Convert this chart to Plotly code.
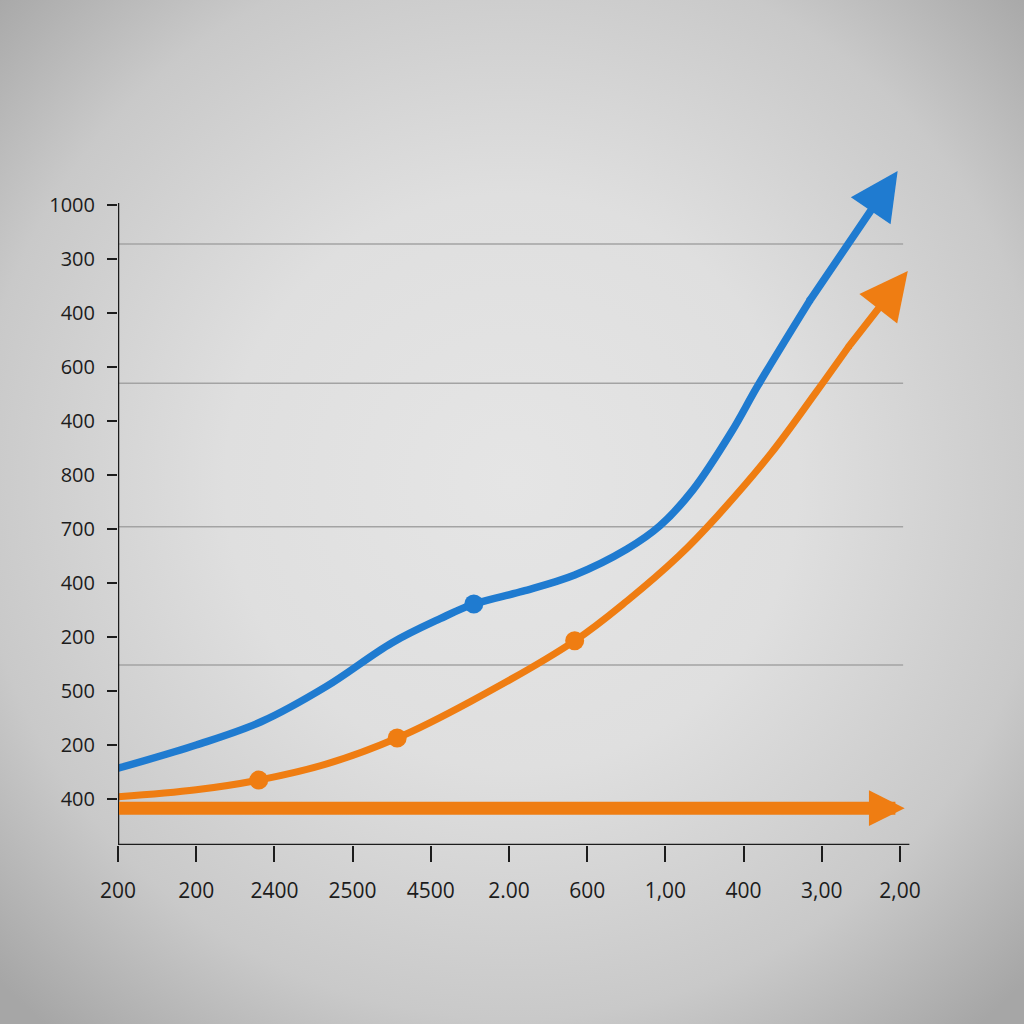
import base64
import plotly.graph_objects as go

# tick labels as printed on the chart
y_labels = ["400", "200", "500", "200", "400", "700", "800", "400", "600", "400", "300", "1000"]
x_labels = ["200", "200", "2400", "2500", "4500", "2.00", "600", "1,00", "400", "3,00", "2,00"]

# blue series (in tick units); last point = arrow tip
blue_x = [0.00, 1.00, 1.83, 2.67, 3.50, 4.12, 4.55, 5.18, 5.84, 6.51, 6.93, 7.35, 7.85, 8.18, 8.85, 9.97]
blue_y = [0.57, 1.00, 1.43, 2.09, 2.89, 3.34, 3.61, 3.85, 4.15, 4.63, 5.06, 5.72, 6.81, 7.65, 9.24, 11.63]
blue_dots = [6]

# orange series; last point = arrow tip
orange_x = [0.00, 1.00, 1.80, 2.67, 3.57, 4.50, 5.84, 6.51, 7.17, 7.67, 8.35, 8.93, 9.35, 10.10]
orange_y = [0.04, 0.17, 0.35, 0.65, 1.13, 1.80, 2.93, 3.67, 4.50, 5.25, 6.40, 7.54, 8.39, 9.78]
orange_dots = [2, 4, 6]

# flat orange arrow
flat_x = [0.0, 10.06]
flat_y = [-0.17, -0.17]

# horizontal reference lines
grid_y = [2.48, 5.04, 7.70, 10.28]

BLUE = "#1f7bd0"
ORANGE = "#ef7d12"
INK = "#1c1c1c"

fig = go.Figure()


def arrow(x0, y0, x1, y1, col, w, hs):
    fig.add_annotation(x=x1, y=y1, ax=x0, ay=y0, xref="x", yref="y", axref="x", ayref="y",
                       text="", font=dict(size=1), borderpad=0, width=1, height=1,
                       showarrow=True, arrowhead=2, arrowwidth=w, arrowsize=hs, arrowcolor=col)


for xs, ys, dots, col, w, hs in [(blue_x, blue_y, blue_dots, BLUE, 7.5, 1.28),
                                 (orange_x, orange_y, orange_dots, ORANGE, 7, 1.37)]:
    # smooth curve up to the arrow shaft
    fig.add_trace(go.Scatter(x=xs[:-1], y=ys[:-1], mode="lines",
                             line=dict(color=col, width=w, shape="spline", smoothing=1.0),
                             hoverinfo="skip", showlegend=False))
    # dots, plus a small joint where the curve meets the straight shaft
    fig.add_trace(go.Scatter(x=[xs[i] for i in dots] + [xs[-2]],
                             y=[ys[i] for i in dots] + [ys[-2]], mode="markers",
                             marker=dict(size=[19] * len(dots) + [w], color=col, opacity=1,
                                         line=dict(width=0)),
                             cliponaxis=False, hoverinfo="skip", showlegend=False))
    # straight shaft + head
    arrow(xs[-2], ys[-2], xs[-1], ys[-1], col, w, hs)

arrow(flat_x[0], flat_y[0], flat_x[1], flat_y[1], ORANGE, 13, 0.55)

for g in grid_y:
    fig.add_shape(type="line", x0=0, x1=10.04, y0=g, y1=g, xref="x", yref="y",
                  line=dict(color="#a3a3a3", width=1.5), layer="below")

# axis lines
fig.add_shape(type="line", x0=0, x1=0, y0=-0.852, y1=11.04, xref="x", yref="y",
              line=dict(color=INK, width=2.5))
fig.add_shape(type="line", x0=0, x1=10.12, y0=-0.852, y1=-0.852, xref="x", yref="y",
              line=dict(color=INK, width=2.5))

svg = ('<svg xmlns="http://www.w3.org/2000/svg" width="1024" height="1024">'
       '<defs><radialGradient id="g" cx="50%" cy="47%" r="70%">'
       '<stop offset="0" stop-color="#e5e5e5"/><stop offset="0.4" stop-color="#dfdfdf"/>'
       '<stop offset="0.75" stop-color="#c9c9c9"/><stop offset="1" stop-color="#a6a6a6"/>'
       '</radialGradient></defs><rect width="1024" height="1024" fill="url(#g)"/></svg>')
bg = "data:image/svg+xml;base64," + base64.b64encode(svg.encode()).decode()

fig.update_layout(
    width=1024, height=1024,
    margin=dict(l=118, r=100, t=150, b=179),
    paper_bgcolor="#d6d6d6", plot_bgcolor="rgba(0,0,0,0)",
    font=dict(family="Open Sans, Liberation Sans, sans-serif", size=20, color=INK),
    images=[dict(source=bg, xref="paper", yref="paper", x=-118 / 806, y=1 + 150 / 695,
                 sizex=1024 / 806, sizey=1024 / 695, sizing="stretch", layer="below",
                 xanchor="left", yanchor="top")],
    xaxis=dict(range=[0, 10.307], tickvals=list(range(len(x_labels))), ticktext=x_labels,
               tickfont=dict(size=21),
               showgrid=False, zeroline=False, showline=False, ticks="outside",
               ticklen=16, tickwidth=2, tickcolor=INK, ticklabelstandoff=11, automargin=False),
    yaxis=dict(range=[-0.852, 12.02], tickvals=list(range(len(y_labels))), ticktext=y_labels,
               showgrid=False, zeroline=False, showline=False, ticks="outside",
               ticklen=10, tickwidth=2, tickcolor=INK, ticklabelstandoff=8, automargin=False),
)

fig.write_html("out.html", config={"displayModeBar": False},
               post_script="document.body.style.margin='0';document.body.style.overflow='hidden';")
